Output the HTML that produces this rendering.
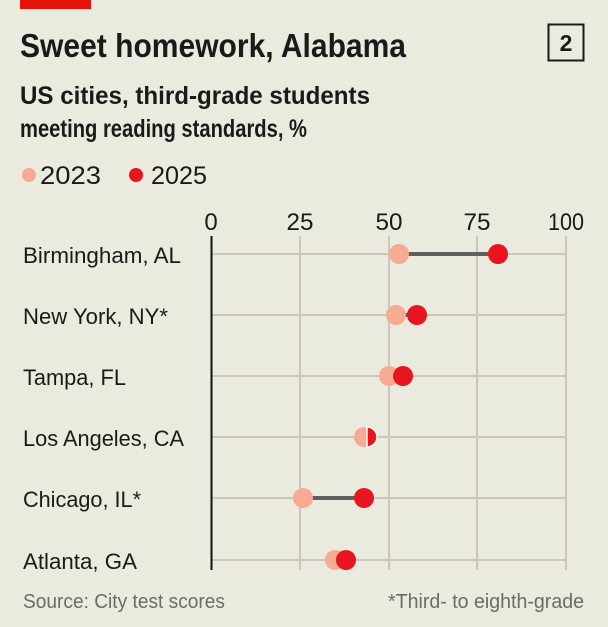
<!DOCTYPE html>
<html><head><style>html,body{margin:0;padding:0;background:#ebeadf;}svg{display:block}</style></head>
<body>
<svg width="608" height="627" viewBox="0 0 608 627" xmlns="http://www.w3.org/2000/svg" font-family="Liberation Sans, sans-serif">
<rect width="608" height="627" fill="#ebeadf"/>
<rect x="20" y="0" width="71" height="9" fill="#e3120b"/>
<text x="20" y="57" font-size="33" font-weight="bold" fill="#1a1a1a" textLength="386" lengthAdjust="spacingAndGlyphs">Sweet homework, Alabama</text>
<rect x="548.5" y="24.5" width="35" height="36" fill="none" stroke="#1a1a1a" stroke-width="2"/>
<text x="566" y="51" font-size="23" font-weight="bold" text-anchor="middle" fill="#1a1a1a">2</text>
<text x="20" y="104" font-size="25" font-weight="bold" fill="#1a1a1a" textLength="350" lengthAdjust="spacingAndGlyphs">US cities, third-grade students</text>
<text x="20" y="137" font-size="25" font-weight="bold" fill="#1a1a1a" textLength="287" lengthAdjust="spacingAndGlyphs">meeting reading standards, %</text>
<circle cx="29" cy="175" r="7" fill="#f7ab92"/>
<text x="40" y="184" font-size="25" fill="#1a1a1a" textLength="61" lengthAdjust="spacingAndGlyphs">2023</text>
<circle cx="136" cy="175" r="7" fill="#e8141f"/>
<text x="151" y="184" font-size="25" fill="#1a1a1a" textLength="56" lengthAdjust="spacingAndGlyphs">2025</text>
<g font-size="24" fill="#1a1a1a" text-anchor="middle">
<text x="211" y="230">0</text><text x="300" y="230" textLength="27" lengthAdjust="spacingAndGlyphs">25</text><text x="389" y="230" textLength="27" lengthAdjust="spacingAndGlyphs">50</text><text x="477" y="230" textLength="27" lengthAdjust="spacingAndGlyphs">75</text><text x="566" y="230" textLength="36" lengthAdjust="spacingAndGlyphs">100</text>
</g>
<g stroke="#c8c6bd" stroke-width="2">
<line x1="300" y1="236" x2="300" y2="570"/><line x1="389" y1="236" x2="389" y2="570"/><line x1="477" y1="236" x2="477" y2="570"/><line x1="566" y1="236" x2="566" y2="570"/>
<line x1="211" y1="254" x2="566" y2="254"/><line x1="211" y1="315" x2="566" y2="315"/><line x1="211" y1="376" x2="566" y2="376"/><line x1="211" y1="437" x2="566" y2="437"/><line x1="211" y1="498" x2="566" y2="498"/><line x1="211" y1="560" x2="566" y2="560"/>
</g>
<line x1="211.5" y1="236" x2="211.5" y2="570" stroke="#111" stroke-width="2"/>
<g font-size="22" fill="#1a1a1a">
<text x="23" y="263" textLength="158" lengthAdjust="spacingAndGlyphs">Birmingham, AL</text>
<text x="23" y="324" textLength="145" lengthAdjust="spacingAndGlyphs">New York, NY*</text>
<text x="23" y="385" textLength="103" lengthAdjust="spacingAndGlyphs">Tampa, FL</text>
<text x="23" y="446" textLength="161" lengthAdjust="spacingAndGlyphs">Los Angeles, CA</text>
<text x="23" y="507" textLength="118" lengthAdjust="spacingAndGlyphs">Chicago, IL*</text>
<text x="23" y="569" textLength="114" lengthAdjust="spacingAndGlyphs">Atlanta, GA</text>
</g>
<g stroke="#5f5f5f" stroke-width="4">
<line x1="399" y1="254" x2="498" y2="254"/><line x1="396" y1="315" x2="417" y2="315"/><line x1="389" y1="376" x2="403" y2="376"/><line x1="303" y1="498" x2="364" y2="498"/><line x1="335" y1="560" x2="346" y2="560"/>
</g>
<g fill="#f7ab92">
<circle cx="399" cy="254" r="10"/><circle cx="396" cy="315" r="10"/><circle cx="389" cy="376" r="10"/><circle cx="364" cy="437" r="10"/><circle cx="303" cy="498" r="10"/><circle cx="335" cy="560" r="10"/>
</g>
<g fill="#e8141f">
<circle cx="498" cy="254" r="10"/><circle cx="417" cy="315" r="10"/><circle cx="403" cy="376" r="10"/><circle cx="364" cy="498" r="10"/><circle cx="346" cy="560" r="10"/>
<path d="M367 427 A10 10 0 0 1 367 447 Z" stroke="#fff" stroke-width="1.5"/>
</g>
<text x="23" y="608" font-size="20" fill="#6b6b6b" textLength="202" lengthAdjust="spacingAndGlyphs">Source: City test scores</text>
<text x="584" y="608" font-size="20" fill="#6b6b6b" text-anchor="end" textLength="196" lengthAdjust="spacingAndGlyphs">*Third- to eighth-grade</text>
</svg>
</body></html>
